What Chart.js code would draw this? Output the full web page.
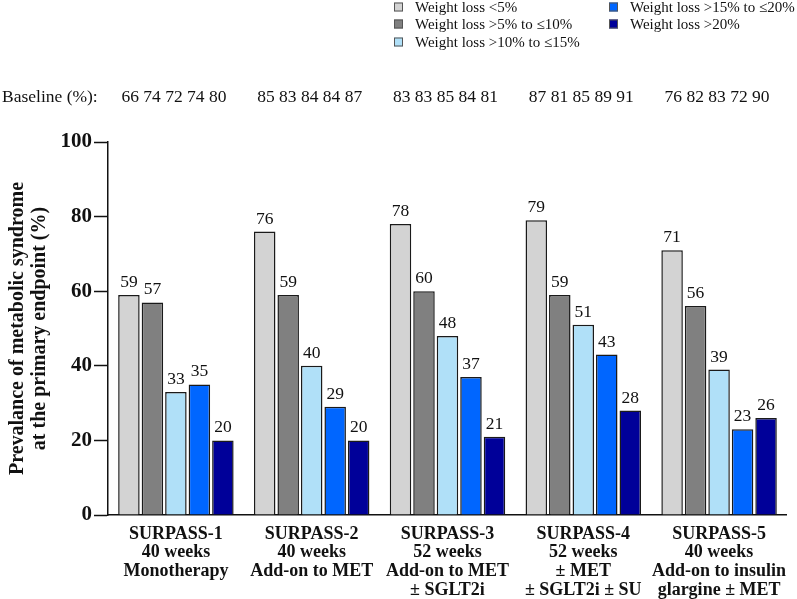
<!DOCTYPE html>
<html>
<head>
<meta charset="utf-8">
<script src="https://cdn.jsdelivr.net/npm/chart.js@4/dist/chart.umd.min.js"></script>
<style>
  html, body { margin: 0; padding: 0; background: #fff; }
  #wrap { width: 797px; height: 599px; }
</style>
</head>
<body>
<div id="wrap"><canvas id="msChart"></canvas></div>
<script>
// trial labels (one array per tick, multi-line)
const trials = [
    ['SURPASS-1', '40 weeks', 'Monotherapy'],
    ['SURPASS-2', '40 weeks', 'Add-on to MET'],
    ['SURPASS-3', '52 weeks', 'Add-on to MET', '\u00b1 SGLT2i'],
    ['SURPASS-4', '52 weeks', '\u00b1 MET', '\u00b1 SGLT2i \u00b1 SU'],
    ['SURPASS-5', '40 weeks', 'Add-on to insulin', 'glargine \u00b1 MET'],
]
const groupNames = [
    'Weight loss <5%',
    'Weight loss >5% to \u226410%',
    'Weight loss >10% to \u226415%',
    'Weight loss >15% to \u226420%',
    'Weight loss >20%',
]
const groupColors = ['#d3d3d3', '#808080', '#b0e0f8', '#0066ff', '#000099']

// prevalence at primary endpoint (%)
const wl0to5 = [59, 76, 78, 79, 71]
const wl5to10 = [57, 59, 60, 59, 56]
const wl10to15 = [33, 40, 48, 51, 39]
const wl15to20 = [35, 29, 37, 43, 23]
const wlOver20 = [20, 20, 21, 28, 26]

// baseline prevalence (%) per trial
const baseline1 = [66, 74, 72, 74, 80]
const baseline2 = [85, 83, 84, 84, 87]
const baseline3 = [83, 83, 85, 84, 81]
const baseline4 = [87, 81, 85, 89, 91]
const baseline5 = [76, 82, 83, 72, 90]

const yTicks = [0, 20, 40, 60, 80, 100]

const serif = '"Liberation Serif", "Times New Roman", serif'

let seriesValues = [wl0to5, wl5to10, wl10to15, wl15to20, wlOver20]
let baselines = [baseline1, baseline2, baseline3, baseline4, baseline5]

let datasets = []
for (let i = 0; i < groupNames.length; i++) {
    datasets.push({
        label: groupNames[i],
        data: seriesValues[i],
        backgroundColor: groupColors[i],
        borderColor: '#1a1a1a',
        borderWidth: 1.5,
        categoryPercentage: 0.865,
        barPercentage: 0.915,
    })
}

// value labels above the bars
const barValues = {
    id: 'barValues',
    afterDatasetsDraw(chart) {
        const ctx = chart.ctx
        ctx.save()
        ctx.font = '17.5px ' + serif
        ctx.fillStyle = '#111'
        ctx.textAlign = 'center'
        ctx.textBaseline = 'alphabetic'
        chart.data.datasets.forEach((ds, i) => {
            chart.getDatasetMeta(i).data.forEach((bar, j) => {
                ctx.fillText(ds.data[j], bar.x, bar.y - 8)
            })
        })
        ctx.restore()
    }
}

// legend in two columns + baseline row on top
const topText = {
    id: 'topText',
    afterDraw(chart) {
        const ctx = chart.ctx
        ctx.save()
        // legend
        ctx.font = '15px ' + serif
        ctx.textBaseline = 'middle'
        ctx.textAlign = 'left'
        const cols = [394, 609]
        const rows = [7, 24, 42]
        chart.data.datasets.forEach((ds, i) => {
            let cx = cols[i < 3 ? 0 : 1]
            let cy = rows[i < 3 ? i : i - 3]
            ctx.fillStyle = ds.backgroundColor
            ctx.fillRect(cx, cy - 4.5, 9, 9)
            ctx.strokeStyle = '#555'
            ctx.lineWidth = 1
            ctx.strokeRect(cx + 0.5, cy - 4, 8, 8)
            ctx.fillStyle = '#111'
            ctx.fillText(ds.label, cx + 21, cy + 1)
        })
        // baseline row
        ctx.font = '17.5px ' + serif
        ctx.textBaseline = 'alphabetic'
        ctx.fillText('Baseline (%):', 2, 102)
        ctx.textAlign = 'center'
        const xScale = chart.scales.x
        baselines.forEach((vals, j) => {
            ctx.fillText(vals.join(' '), xScale.getPixelForValue(j) - 2, 102)
        })
        ctx.restore()
    }
}

new Chart('msChart', {
    type: 'bar',
    data: {
        labels: trials,
        datasets: datasets,
    },
    options: {
        responsive: true,
        maintainAspectRatio: false,
        animation: false,
        layout: {
            padding: { top: 142, right: 9, left: 0, bottom: 0 },
        },
        plugins: {
            legend: { display: false },
            tooltip: { enabled: false },
        },
        scales: {
            x: {
                grid: { display: false, drawTicks: false },
                border: { color: '#111', width: 1.5 },
                ticks: {
                    autoSkip: false,
                    maxRotation: 0,
                    padding: 10,
                    color: '#111',
                    font: { family: serif, size: 18, weight: 'bold', lineHeight: 1.03 },
                },
                afterFit: (scale) => { scale.height = 84 },
            },
            y: {
                min: 0,
                max: 100,
                afterBuildTicks: (scale) => { scale.ticks = yTicks.map(v => ({ value: v })) },
                grid: {
                    drawOnChartArea: false,
                    tickLength: 14,
                    tickColor: '#111',
                    tickWidth: 1.5,
                },
                border: { color: '#111', width: 1.5 },
                ticks: {
                    padding: 2,
                    color: '#111',
                    font: { family: serif, size: 21, weight: 'bold' },
                },
                title: {
                    display: true,
                    text: ['Prevalance of metabolic syndrome', 'at the primary endpoint (%)'],
                    color: '#111',
                    padding: { top: 7, bottom: 0 },
                    font: { family: serif, size: 20, weight: 'bold', lineHeight: 1.1 },
                },
                afterFit: (scale) => { scale.width = 108 },
            },
        },
    },
    plugins: [barValues, topText],
})
</script>
</body>
</html>
